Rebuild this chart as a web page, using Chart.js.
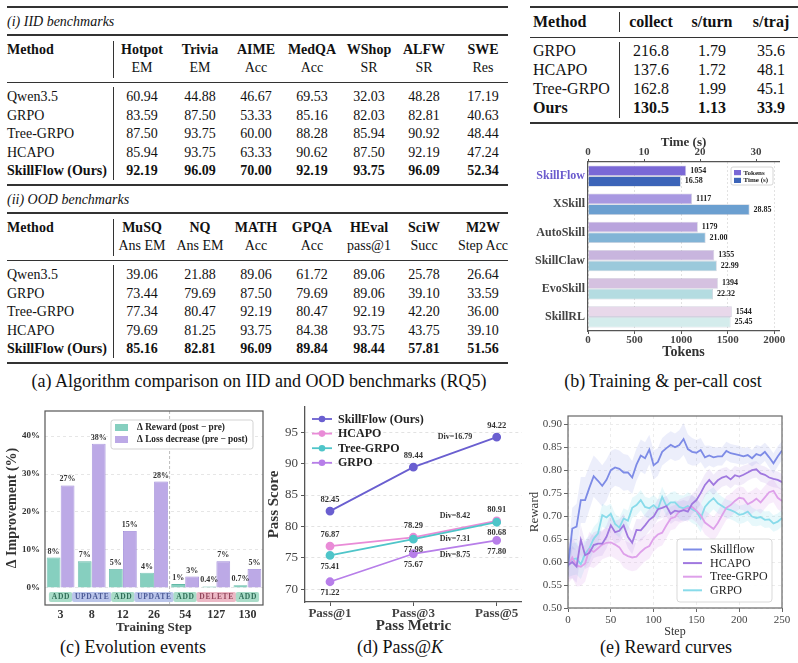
<!DOCTYPE html>
<html lang="en">
<head>
<meta charset="UTF-8">
<title>SkillFlow results</title>
<script src="https://cdn.jsdelivr.net/npm/chart.js"></script>
<style>
  body { margin: 0; background: #fff; }
  #fig { position: relative; width: 798px; height: 663px; overflow: hidden; background: #fff;
         font-family: 'Liberation Serif', serif; color: #111; }
  .t { position: absolute; white-space: nowrap; line-height: 1; }
  .ln { position: absolute; background: #333; }
  canvas { position: absolute; }
</style>
</head>
<body>
<div id="fig"></div>
<script>
// ---------- (a) benchmark tables ----------
const methods = ['Qwen3.5', 'GRPO', 'Tree-GRPO', 'HCAPO', 'SkillFlow (Ours)'];
const iidBench = ['Hotpot', 'Trivia', 'AIME', 'MedQA', 'WShop', 'ALFW', 'SWE'];
const iidMetric = ['EM', 'EM', 'Acc', 'Acc', 'SR', 'SR', 'Res'];
const iidScores = [
  [60.94, 44.88, 46.67, 69.53, 32.03, 48.28, 17.19],
  [83.59, 87.50, 53.33, 85.16, 82.03, 82.81, 40.63],
  [87.50, 93.75, 60.00, 88.28, 85.94, 90.92, 48.44],
  [85.94, 93.75, 63.33, 90.62, 87.50, 92.19, 47.24],
  [92.19, 96.09, 70.00, 92.19, 93.75, 96.09, 52.34]
];
const oodBench = ['MuSQ', 'NQ', 'MATH', 'GPQA', 'HEval', 'SciW', 'M2W'];
const oodMetric = ['Ans EM', 'Ans EM', 'Acc', 'Acc', 'pass@1', 'Succ', 'Step Acc'];
const oodScores = [
  [39.06, 21.88, 89.06, 61.72, 89.06, 25.78, 26.64],
  [73.44, 79.69, 87.50, 79.69, 89.06, 39.10, 33.59],
  [77.34, 80.47, 92.19, 80.47, 92.19, 42.20, 36.00],
  [79.69, 81.25, 93.75, 84.38, 93.75, 43.75, 39.10],
  [85.16, 82.81, 96.09, 89.84, 98.44, 57.81, 51.56]
];

// ---------- cost table ----------
const costTableMethods = ['GRPO', 'HCAPO', 'Tree-GRPO', 'Ours'];
const costCollect = [216.8, 137.6, 162.8, 130.5];
const costPerTurn = [1.79, 1.72, 1.99, 1.13];
const costPerTraj = [35.6, 48.1, 45.1, 33.9];

// ---------- (b) training & per-call cost ----------
const costMethods = ['SkillFlow', 'XSkill', 'AutoSkill', 'SkillClaw', 'EvoSkill', 'SkillRL'];
const costTokens = [1054, 1117, 1179, 1355, 1394, 1544];
const costTime = [16.58, 28.85, 21.00, 22.99, 22.32, 25.45];
const tokenTicks = [0, 500, 1000, 1500, 2000];
const timeTicks = [0, 10, 20, 30];

// ---------- (c) evolution events ----------
const evoSteps = ['3', '8', '12', '26', '54', '127', '130'];
const evoEvents = ['ADD', 'UPDATE', 'ADD', 'UPDATE', 'ADD', 'DELETE', 'ADD'];
const evoReward = [8, 7, 5, 4, 1, 0.4, 0.7];
const evoLoss = [27, 38, 15, 28, 3, 7, 5];
const evoTicks = [0, 10, 20, 30, 40];

// ---------- (d) pass@k ----------
const passMetrics = ['Pass@1', 'Pass@3', 'Pass@5'];
const passSkillFlow = [82.45, 89.44, 94.22];
const passHCAPO = [76.87, 78.29, 80.91];
const passTreeGRPO = [75.41, 77.98, 80.68];
const passGRPO = [71.22, 75.67, 77.80];
const passTicks = [70, 75, 80, 85, 90, 95];
const divNotes = [
  { text: 'Div=16.79', x: 1.5, y: 94.2 },
  { text: 'Div=8.42', x: 1.5, y: 81.7 },
  { text: 'Div=7.31', x: 1.5, y: 78.0 },
  { text: 'Div=8.75', x: 1.5, y: 75.5 }
];

// ---------- (e) reward curves ----------
const rewardSteps = [0, 5, 10, 15, 20, 25, 30, 35, 40, 45, 50, 55, 60, 65, 70, 75, 80, 85, 90, 95, 100,
  105, 110, 115, 120, 125, 130, 135, 140, 145, 150, 155, 160, 165, 170, 175, 180, 185, 190, 195, 200,
  205, 210, 215, 220, 225, 230, 235, 240, 245, 250];
const skillflowReward = [0.590, 0.673, 0.677, 0.735, 0.735, 0.762, 0.787, 0.777, 0.766, 0.779,
  0.800, 0.806, 0.803, 0.795, 0.795, 0.784, 0.812, 0.832, 0.826, 0.845,
  0.811, 0.818, 0.840, 0.848, 0.855, 0.850, 0.855, 0.868, 0.846, 0.840,
  0.838, 0.844, 0.828, 0.832, 0.828, 0.830, 0.830, 0.842, 0.837, 0.835,
  0.833, 0.830, 0.833, 0.826, 0.835, 0.832, 0.840, 0.828, 0.815, 0.830, 0.843];
const skillflowSpread = [0.030, 0.045, 0.050, 0.050, 0.050, 0.048, 0.045, 0.045, 0.045, 0.045,
  0.042, 0.040, 0.040, 0.040, 0.038, 0.036, 0.035, 0.035, 0.035, 0.032,
  0.032, 0.030, 0.030, 0.030, 0.030, 0.030, 0.032, 0.035, 0.032, 0.030,
  0.028, 0.026, 0.025, 0.022, 0.022, 0.020, 0.020, 0.020, 0.020, 0.020,
  0.020, 0.018, 0.018, 0.018, 0.020, 0.020, 0.020, 0.022, 0.022, 0.022, 0.020];
const hcapoReward = [0.593, 0.600, 0.590, 0.648, 0.615, 0.620, 0.637, 0.640, 0.640, 0.655,
  0.680, 0.665, 0.668, 0.680, 0.655, 0.642, 0.670, 0.669, 0.680, 0.692,
  0.699, 0.715, 0.718, 0.722, 0.705, 0.712, 0.710, 0.713, 0.710, 0.727,
  0.735, 0.750, 0.768, 0.779, 0.768, 0.778, 0.784, 0.787, 0.780, 0.789,
  0.786, 0.790, 0.795, 0.800, 0.802, 0.793, 0.790, 0.784, 0.781, 0.779, 0.774];
const hcapoSpread = [0.030, 0.035, 0.035, 0.032, 0.030, 0.030, 0.028, 0.028, 0.026, 0.025,
  0.025, 0.025, 0.025, 0.025, 0.025, 0.025, 0.024, 0.024, 0.024, 0.024,
  0.022, 0.022, 0.022, 0.022, 0.022, 0.022, 0.022, 0.022, 0.022, 0.022,
  0.022, 0.024, 0.024, 0.024, 0.022, 0.022, 0.020, 0.020, 0.020, 0.020,
  0.020, 0.020, 0.018, 0.018, 0.018, 0.018, 0.018, 0.018, 0.018, 0.018, 0.018];
const treeReward = [0.593, 0.610, 0.592, 0.590, 0.597, 0.628, 0.622, 0.630, 0.638, 0.642,
  0.643, 0.638, 0.632, 0.618, 0.613, 0.610, 0.612, 0.622, 0.630, 0.635,
  0.651, 0.660, 0.664, 0.680, 0.695, 0.698, 0.710, 0.714, 0.718, 0.720,
  0.712, 0.702, 0.686, 0.679, 0.672, 0.685, 0.702, 0.718, 0.724, 0.733,
  0.740, 0.738, 0.726, 0.731, 0.738, 0.730, 0.741, 0.752, 0.755, 0.740, 0.733];
const treeSpread = [0.040, 0.045, 0.045, 0.042, 0.040, 0.038, 0.035, 0.035, 0.032, 0.032,
  0.030, 0.030, 0.030, 0.030, 0.030, 0.030, 0.030, 0.030, 0.028, 0.028,
  0.028, 0.028, 0.028, 0.028, 0.026, 0.026, 0.026, 0.026, 0.026, 0.026,
  0.026, 0.026, 0.026, 0.026, 0.026, 0.026, 0.026, 0.026, 0.025, 0.025,
  0.025, 0.025, 0.025, 0.025, 0.025, 0.025, 0.025, 0.025, 0.025, 0.025, 0.025];
const grpoReward = [0.597, 0.606, 0.608, 0.595, 0.618, 0.630, 0.651, 0.662, 0.702, 0.697,
  0.705, 0.683, 0.675, 0.695, 0.690, 0.718, 0.724, 0.735, 0.720, 0.717,
  0.724, 0.715, 0.742, 0.722, 0.730, 0.730, 0.720, 0.717, 0.722, 0.715,
  0.710, 0.695, 0.720, 0.731, 0.739, 0.728, 0.722, 0.716, 0.713, 0.709,
  0.703, 0.705, 0.710, 0.699, 0.696, 0.698, 0.692, 0.693, 0.684, 0.688, 0.696];
const grpoSpread = [0.030, 0.035, 0.035, 0.032, 0.030, 0.028, 0.026, 0.025, 0.025, 0.025,
  0.022, 0.022, 0.022, 0.022, 0.022, 0.022, 0.022, 0.022, 0.022, 0.022,
  0.022, 0.022, 0.022, 0.022, 0.022, 0.024, 0.026, 0.028, 0.030, 0.030,
  0.030, 0.030, 0.028, 0.026, 0.024, 0.022, 0.020, 0.020, 0.020, 0.020,
  0.020, 0.020, 0.020, 0.020, 0.018, 0.018, 0.018, 0.018, 0.018, 0.018, 0.018];
const rewardTicksY = [0.50, 0.55, 0.60, 0.65, 0.70, 0.75, 0.80, 0.85, 0.90];
const rewardTicksX = [0, 50, 100, 150, 200, 250];

// ---------- helpers ----------
const FONT = "'Liberation Serif', serif";
Chart.defaults.font.family = FONT;
Chart.defaults.color = '#333';
const fig = document.getElementById('fig');

function put(html, x, y, o) {
  o = o || {};
  const d = document.createElement('div');
  d.className = 't';
  d.innerHTML = html;
  d.style.left = x + 'px';
  d.style.top = y + 'px';
  d.style.fontSize = (o.size || 14) + 'px';
  if (o.bold) d.style.fontWeight = 'bold';
  if (o.italic) d.style.fontStyle = 'italic';
  d.style.transform = 'translate(' + (o.align === 'left' ? '0' : '-50%') + ',-50%)';
  fig.appendChild(d);
}
function hline(x1, x2, y, w) {
  const d = document.createElement('div');
  d.className = 'ln';
  d.style.left = x1 + 'px'; d.style.top = (y - w / 2) + 'px';
  d.style.width = (x2 - x1) + 'px'; d.style.height = w + 'px';
  fig.appendChild(d);
}
function vline(x, y1, y2, w) {
  const d = document.createElement('div');
  d.className = 'ln';
  d.style.left = (x - w / 2) + 'px'; d.style.top = y1 + 'px';
  d.style.width = w + 'px'; d.style.height = (y2 - y1) + 'px';
  fig.appendChild(d);
}
function mkCanvas(x, y, w, h) {
  const c = document.createElement('canvas');
  c.width = w; c.height = h;
  c.style.left = x + 'px'; c.style.top = y + 'px';
  c.style.width = w + 'px'; c.style.height = h + 'px';
  fig.appendChild(c);
  return c;
}
function roundRect(ctx, x, y, w, h, r) {
  ctx.beginPath();
  ctx.moveTo(x + r, y);
  ctx.arcTo(x + w, y, x + w, y + h, r);
  ctx.arcTo(x + w, y + h, x, y + h, r);
  ctx.arcTo(x, y + h, x, y, r);
  ctx.arcTo(x, y, x + w, y, r);
  ctx.closePath();
}

// ---------- table (a) ----------
const colX = [142, 200, 256, 312, 369, 424, 483];
function benchBlock(top, tag, bench, metric, scores) {
  put(tag, 7, top + 15, { italic: true, align: 'left' });
  hline(7, 508, top + 28, 1.2);
  put('Method', 7, top + 43, { bold: true, align: 'left' });
  bench.forEach((b, j) => {
    put(b, colX[j], top + 43, { bold: true });
    put(metric[j], colX[j], top + 61);
  });
  vline(113, top + 34, top + 71, 1);
  hline(7, 508, top + 75, 1);
  methods.forEach((m, i) => {
    const y = top + 90 + i * 18.6;
    const bold = i === methods.length - 1;
    put(m, 7, y, { bold: bold, align: 'left' });
    scores[i].forEach((v, j) => put(v.toFixed(2), colX[j], y, { bold: bold }));
  });
  vline(113, top + 80, top + 173, 1);
}
hline(7, 508, 7, 1.6);
benchBlock(7, '(i) IID benchmarks', iidBench, iidMetric, iidScores);
hline(7, 508, 185, 1.3);
benchBlock(185, '(ii) OOD benchmarks', oodBench, oodMetric, oodScores);
hline(7, 508, 363, 1.6);
put('(a) Algorithm comparison on IID and OOD benchmarks (RQ5)', 259, 381, { size: 18 });

// ---------- cost table ----------
hline(530, 798, 7, 1.6);
put('Method', 533, 22, { bold: true, align: 'left', size: 16 });
[['collect', 651], ['s/turn', 712], ['s/traj', 771]].forEach(h => put(h[0], h[1], 22, { bold: true, size: 16 }));
vline(619, 12, 32, 1);
hline(530, 798, 37, 1);
costTableMethods.forEach((m, i) => {
  const y = 51 + i * 19;
  const bold = i === costTableMethods.length - 1;
  put(m, 533, y, { bold: bold, align: 'left', size: 16 });
  put(costCollect[i].toFixed(1), 651, y, { bold: bold, size: 16 });
  put(costPerTurn[i].toFixed(2), 712, y, { bold: bold, size: 16 });
  put(costPerTraj[i].toFixed(1), 771, y, { bold: bold, size: 16 });
});
vline(619, 42, 118, 1);
hline(530, 798, 123, 1.6);

put('(b) Training &amp; per-call cost', 663, 381, { size: 18 });
put('(c) Evolution events', 133, 647, { size: 18 });
put('(d) Pass@<i>K</i>', 400, 647, { size: 18 });
put('(e) Reward curves', 666, 647, { size: 18 });

// ---------- chart (b) ----------
const tokenColors = ['#7a68d6', '#a898e1', '#b9a4dd', '#c8b5de', '#d5c1e0', '#e8d8ea'];
const timeColors = ['#3c64b8', '#6b9fd0', '#82b4d6', '#9bc9db', '#b4dce1', '#d4ecec'];
const legendB = {
  id: 'legendB',
  afterDraw(chart) {
    const ctx = chart.ctx, a = chart.chartArea;
    const bx = a.right - 48, by = a.top + 5;
    ctx.save();
    ctx.fillStyle = 'rgba(255,255,255,0.9)';
    ctx.strokeStyle = '#ccc';
    ctx.lineWidth = 0.8;
    roundRect(ctx, bx, by, 42, 18, 2);
    ctx.fill(); ctx.stroke();
    ctx.font = 'bold 7px ' + FONT;
    ctx.textBaseline = 'middle';
    chart.data.datasets.forEach((ds, i) => {
      ctx.fillStyle = i === 0 ? tokenColors[0] : timeColors[0];
      ctx.fillRect(bx + 3, by + 3 + i * 7.8, 7, 5.2);
      ctx.fillStyle = '#222';
      ctx.fillText(ds.label, bx + 12.5, by + 5.8 + i * 7.8);
    });
    ctx.restore();
  }
};
const barLabelsB = {
  id: 'barLabelsB',
  afterDatasetsDraw(chart) {
    const ctx = chart.ctx;
    ctx.save();
    ctx.font = 'bold 8px ' + FONT;
    ctx.fillStyle = '#222';
    ctx.textBaseline = 'middle';
    chart.data.datasets.forEach((ds, di) => {
      chart.getDatasetMeta(di).data.forEach((bar, i) => {
        const txt = di === 0 ? String(ds.data[i]) : ds.data[i].toFixed(2);
        ctx.fillText(txt, bar.x + 4, bar.y);
      });
    });
    ctx.restore();
  }
};
new Chart(mkCanvas(530, 135, 268, 230), {
  type: 'bar',
  data: {
    labels: costMethods,
    datasets: [
      { label: 'Tokens', data: costTokens, xAxisID: 'x', backgroundColor: tokenColors,
        borderColor: 'rgba(80,70,130,0.25)', borderWidth: 0.8 },
      { label: 'Time (s)', data: costTime, xAxisID: 'x2', backgroundColor: timeColors,
        borderColor: 'rgba(50,70,120,0.25)', borderWidth: 0.8 }
    ]
  },
  options: {
    indexAxis: 'y',
    responsive: false,
    animation: false,
    categoryPercentage: 0.76,
    barPercentage: 1.0,
    layout: { padding: { top: 0, right: 19, bottom: 0, left: 0 } },
    plugins: { legend: { display: false }, tooltip: { enabled: false } },
    scales: {
      x: {
        position: 'bottom', min: 0, max: 2050,
        afterBuildTicks: s => { s.ticks = tokenTicks.map(v => ({ value: v })); },
        ticks: { font: { size: 11, weight: 'bold' }, color: '#444', padding: 0, callback: v => String(v) },
        grid: { color: '#e2e2e2', tickLength: 3, tickColor: '#555' },
        border: { color: '#555', width: 1.2, dash: [2, 2] },
        title: { display: true, text: 'Tokens', font: { size: 14, weight: 'bold' }, color: '#333',
                 padding: { top: 0, bottom: 4 } },
        afterFit: s => { s.height = 34; }
      },
      x2: {
        position: 'top', min: 0, max: 34.1,
        afterBuildTicks: s => { s.ticks = timeTicks.map(v => ({ value: v })); },
        ticks: { font: { size: 11, weight: 'bold' }, color: '#444', padding: 0 },
        grid: { drawOnChartArea: false, tickLength: 3, tickColor: '#555' },
        border: { color: '#555', width: 1.2 },
        title: { display: true, text: 'Time (s)', font: { size: 13, weight: 'bold' }, color: '#333',
                 padding: { top: 0, bottom: 0 } },
        afterFit: s => { s.height = 27; }
      },
      y: {
        ticks: { font: { size: 12, weight: 'bold' }, color: c => c.index === 0 ? '#6a5acd' : '#444', padding: 3 },
        grid: { display: false, drawTicks: false },
        border: { color: '#555', width: 1.2 },
        afterFit: s => { s.width = 58; }
      }
    }
  },
  plugins: [barLabelsB, legendB]
});

// ---------- chart (c) ----------
const tagStyle = {
  ADD: { bg: '#a9dcc8', fg: '#2f6d57' },
  UPDATE: { bg: '#bac5ea', fg: '#4a5995' },
  DELETE: { bg: '#ecb8c5', fg: '#93465c' }
};
const evoPlugin = {
  id: 'evoPlugin',
  afterDatasetsDraw(chart) {
    const ctx = chart.ctx, a = chart.chartArea, xs = chart.scales.x, ys = chart.scales.y;
    ctx.save();
    // separator between early and late events
    const sx = (xs.getPixelForValue(3) + xs.getPixelForValue(4)) / 2;
    ctx.strokeStyle = '#b5b5b5';
    ctx.lineWidth = 0.9;
    ctx.setLineDash([3, 2]);
    ctx.beginPath(); ctx.moveTo(sx, a.top); ctx.lineTo(sx, a.bottom); ctx.stroke();
    ctx.setLineDash([]);
    // value labels
    ctx.font = 'bold 8px ' + FONT;
    ctx.fillStyle = '#333';
    ctx.textAlign = 'center';
    ctx.textBaseline = 'bottom';
    chart.data.datasets.forEach((ds, di) => {
      chart.getDatasetMeta(di).data.forEach((b, i) => ctx.fillText(ds.data[i] + '%', b.x, b.y - 2));
    });
    // event tags
    ctx.font = 'bold 7.5px ' + FONT;
    if ('letterSpacing' in ctx) ctx.letterSpacing = '0.7px';
    ctx.textBaseline = 'middle';
    const ty = ys.getPixelForValue(-2.4);
    evoEvents.forEach((ev, i) => {
      const cx = xs.getPixelForValue(i);
      const w = ctx.measureText(ev).width + 5;
      ctx.fillStyle = tagStyle[ev].bg;
      roundRect(ctx, cx - w / 2, ty - 5, w, 10, 2);
      ctx.fill();
      ctx.fillStyle = tagStyle[ev].fg;
      ctx.fillText(ev, cx + 0.4, ty + 0.5);
    });
    if ('letterSpacing' in ctx) ctx.letterSpacing = '0px';
    // frame
    ctx.strokeStyle = '#555';
    ctx.lineWidth = 1.2;
    ctx.strokeRect(a.left, a.top, a.right - a.left, a.bottom - a.top);
    // legend
    const lx = a.left + 66, ly = a.top + 9;
    ctx.fillStyle = 'rgba(255,255,255,0.92)';
    ctx.strokeStyle = '#c8c8c8';
    ctx.lineWidth = 0.8;
    roundRect(ctx, lx, ly, 142, 29, 2.5);
    ctx.fill(); ctx.stroke();
    ctx.font = 'bold 9.3px ' + FONT;
    ctx.textAlign = 'left';
    chart.data.datasets.forEach((ds, i) => {
      const ry = ly + 7.5 + i * 12;
      ctx.fillStyle = ds.backgroundColor;
      ctx.fillRect(lx + 4, ry - 3.5, 13, 7);
      ctx.fillStyle = '#222';
      ctx.fillText(ds.label, lx + 26, ry + 0.5);
    });
    ctx.restore();
  }
};
new Chart(mkCanvas(0, 395, 265, 240), {
  type: 'bar',
  data: {
    labels: evoSteps,
    datasets: [
      { label: 'Δ Reward (post − pre)', data: evoReward, backgroundColor: '#86cfbf',
        borderColor: '#62b9a7', borderWidth: 0.8 },
      { label: 'Δ Loss decrease (pre − post)', data: evoLoss, backgroundColor: '#bca9e6',
        borderColor: '#9c88d7', borderWidth: 0.8 }
    ]
  },
  options: {
    responsive: false,
    animation: false,
    categoryPercentage: 0.9,
    barPercentage: 0.98,
    layout: { padding: { top: 16, right: 2, bottom: 0, left: 0 } },
    plugins: { legend: { display: false }, tooltip: { enabled: false } },
    scales: {
      x: {
        ticks: { font: { size: 12, weight: 'bold' }, color: '#333', padding: 3 },
        grid: { display: false, drawTicks: false },
        border: { display: false },
        title: { display: true, text: 'Training Step', font: { size: 13, weight: 'bold' }, color: '#333',
                 padding: { top: 0, bottom: 0 } },
        afterFit: s => { s.height = 30; }
      },
      y: {
        min: -4.5, max: 46.6,
        afterBuildTicks: s => { s.ticks = evoTicks.map(v => ({ value: v })); },
        ticks: { font: { size: 9, weight: 'bold' }, color: '#333', padding: 5, callback: v => v + '%' },
        grid: { color: '#e6e6e6', drawTicks: false },
        border: { display: false, dash: [3, 3] },
        title: { display: true, text: 'Δ Improvement (%)', font: { size: 14, weight: 'bold' }, color: '#333',
                 padding: { top: 4, bottom: 0 } },
        afterFit: s => { s.width = 45; }
      }
    }
  },
  plugins: [evoPlugin]
});

// ---------- chart (d) ----------
const passNames = ['SkillFlow (Ours)', 'HCAPO', 'Tree-GRPO', 'GRPO'];
const passSeries = [passSkillFlow, passHCAPO, passTreeGRPO, passGRPO];
const passColors = ['#6a5fd0', '#e98bd7', '#4fc5c9', '#b77ee9'];
const passOrder = [0, 2, 1, 3];
const passLabelSide = [-1, -1, 1, 1];
const passPlugin = {
  id: 'passPlugin',
  afterDatasetsDraw(chart) {
    const ctx = chart.ctx, a = chart.chartArea, xs = chart.scales.x, ys = chart.scales.y;
    ctx.save();
    ctx.font = 'bold 8.5px ' + FONT;
    ctx.fillStyle = '#333';
    ctx.textAlign = 'center';
    ctx.textBaseline = 'middle';
    chart.data.datasets.forEach((ds, di) => {
      chart.getDatasetMeta(di).data.forEach((p, i) => {
        ctx.fillText(passSeries[di][i].toFixed(2), p.x, p.y + passLabelSide[di] * 11);
      });
    });
    ctx.font = 'bold 8px ' + FONT;
    divNotes.forEach(n => ctx.fillText(n.text, xs.getPixelForValue(n.x), ys.getPixelForValue(n.y)));
    // legend
    ctx.font = 'bold 12px ' + FONT;
    ctx.textAlign = 'left';
    chart.data.datasets.forEach((ds, i) => {
      const ry = a.top + 12 + i * 14.6;
      ctx.strokeStyle = ds.borderColor;
      ctx.lineWidth = 1.8;
      ctx.beginPath(); ctx.moveTo(a.left + 7, ry); ctx.lineTo(a.left + 27, ry); ctx.stroke();
      ctx.fillStyle = ds.borderColor;
      ctx.beginPath(); ctx.arc(a.left + 17, ry, 3.3, 0, Math.PI * 2); ctx.fill();
      ctx.fillStyle = '#222';
      ctx.fillText(ds.label, a.left + 33, ry + 0.5);
    });
    ctx.restore();
  }
};
new Chart(mkCanvas(265, 395, 262, 240), {
  type: 'line',
  data: {
    datasets: passNames.map((n, k) => ({
      label: n,
      data: passSeries[k].map((v, i) => ({ x: i, y: v })),
      borderColor: passColors[k],
      backgroundColor: passColors[k],
      borderWidth: 1.8,
      pointRadius: 3.5,
      pointHoverRadius: 3.5,
      order: passOrder[k]
    }))
  },
  options: {
    responsive: false,
    animation: false,
    layout: { padding: { top: 12, right: 4, bottom: 0, left: 0 } },
    plugins: { legend: { display: false }, tooltip: { enabled: false } },
    scales: {
      x: {
        type: 'linear', min: -0.3, max: 2.3,
        afterBuildTicks: s => { s.ticks = passMetrics.map((_, i) => ({ value: i })); },
        ticks: { font: { size: 13, weight: 'bold' }, color: '#444', padding: 0, callback: v => passMetrics[v] },
        grid: { drawOnChartArea: false, tickLength: 4, tickColor: '#555' },
        border: { color: '#555', width: 1.3 },
        title: { display: true, text: 'Pass Metric', font: { size: 15, weight: 'bold' }, color: '#333',
                 padding: { top: 0, bottom: 0 } },
        afterFit: s => { s.height = 33; }
      },
      y: {
        min: 68, max: 99,
        afterBuildTicks: s => { s.ticks = passTicks.map(v => ({ value: v })); },
        ticks: { font: { size: 13 }, color: '#444', padding: 3 },
        grid: { color: '#e2e2e2', tickLength: 4, tickColor: '#555' },
        border: { color: '#555', width: 1.3, dash: [3, 3] },
        title: { display: true, text: 'Pass Score', font: { size: 15, weight: 'bold' }, color: '#333',
                 padding: { top: 0, bottom: 0 } },
        afterFit: s => { s.width = 40; }
      }
    }
  },
  plugins: [passPlugin]
});

// ---------- chart (e) ----------
const rewardSeries = [
  { name: 'Skillflow', mean: skillflowReward, spread: skillflowSpread, color: '#7d8be6', band: 'rgba(125,139,230,0.15)' },
  { name: 'HCAPO', mean: hcapoReward, spread: hcapoSpread, color: '#a078df', band: 'rgba(160,120,223,0.14)' },
  { name: 'Tree-GRPO', mean: treeReward, spread: treeSpread, color: '#dea0ea', band: 'rgba(222,160,234,0.2)' },
  { name: 'GRPO', mean: grpoReward, spread: grpoSpread, color: '#88dbea', band: 'rgba(136,219,234,0.2)' }
];
const rewardDatasets = [];
rewardSeries.forEach(s => {
  rewardDatasets.push({
    data: rewardSteps.map((x, i) => ({ x: x, y: s.mean[i] + s.spread[i] })),
    borderWidth: 0, pointRadius: 0, fill: false, order: 10
  });
  rewardDatasets.push({
    data: rewardSteps.map((x, i) => ({ x: x, y: s.mean[i] - s.spread[i] })),
    borderWidth: 0, pointRadius: 0, fill: '-1', backgroundColor: s.band, order: 10
  });
});
rewardSeries.forEach((s, k) => {
  rewardDatasets.push({
    label: s.name,
    data: rewardSteps.map((x, i) => ({ x: x, y: s.mean[i] })),
    borderColor: s.color, borderWidth: 1.8, pointRadius: 0, fill: false, order: k
  });
});
const rewardPlugin = {
  id: 'rewardPlugin',
  afterDraw(chart) {
    const ctx = chart.ctx, a = chart.chartArea;
    ctx.save();
    ctx.strokeStyle = '#666';
    ctx.lineWidth = 1.2;
    ctx.strokeRect(a.left, a.top, a.right - a.left, a.bottom - a.top);
    const bx = a.left + 109, by = a.top + 123;
    ctx.fillStyle = 'rgba(255,255,255,0.88)';
    ctx.strokeStyle = '#cfcfcf';
    ctx.lineWidth = 0.8;
    roundRect(ctx, bx, by, 95, 63, 3);
    ctx.fill(); ctx.stroke();
    ctx.font = '12px ' + FONT;
    ctx.textBaseline = 'middle';
    rewardSeries.forEach((s, i) => {
      const ry = by + 10.5 + i * 13.6;
      ctx.strokeStyle = s.color;
      ctx.lineWidth = 2;
      ctx.beginPath(); ctx.moveTo(bx + 6, ry); ctx.lineTo(bx + 25, ry); ctx.stroke();
      ctx.fillStyle = '#222';
      ctx.fillText(s.name, bx + 33, ry + 0.5);
    });
    ctx.restore();
  }
};
new Chart(mkCanvas(527, 395, 271, 245), {
  type: 'line',
  data: { datasets: rewardDatasets },
  options: {
    responsive: false,
    animation: false,
    layout: { padding: { top: 21, right: 16, bottom: 0, left: 0 } },
    plugins: { legend: { display: false }, tooltip: { enabled: false } },
    scales: {
      x: {
        type: 'linear', min: 0, max: 250,
        afterBuildTicks: s => { s.ticks = rewardTicksX.map(v => ({ value: v })); },
        ticks: { font: { size: 11 }, color: '#444', padding: 2 },
        grid: { color: '#ececec', tickLength: 4, tickColor: '#666' },
        border: { display: false, dash: [3, 3] },
        title: { display: true, text: 'Step', font: { size: 12 }, color: '#333', padding: { top: 0, bottom: 1 } },
        afterFit: s => { s.height = 32; }
      },
      y: {
        min: 0.5, max: 0.918,
        afterBuildTicks: s => { s.ticks = rewardTicksY.map(v => ({ value: v })); },
        ticks: { font: { size: 11 }, color: '#444', padding: 2, callback: v => v.toFixed(2) },
        grid: { color: '#ececec', tickLength: 4, tickColor: '#666' },
        border: { display: false, dash: [3, 3] },
        title: { display: true, text: 'Reward', font: { size: 13 }, color: '#333', padding: { top: 0, bottom: 0 } },
        afterFit: s => { s.width = 41; }
      }
    }
  },
  plugins: [rewardPlugin]
});
</script>
</body>
</html>
